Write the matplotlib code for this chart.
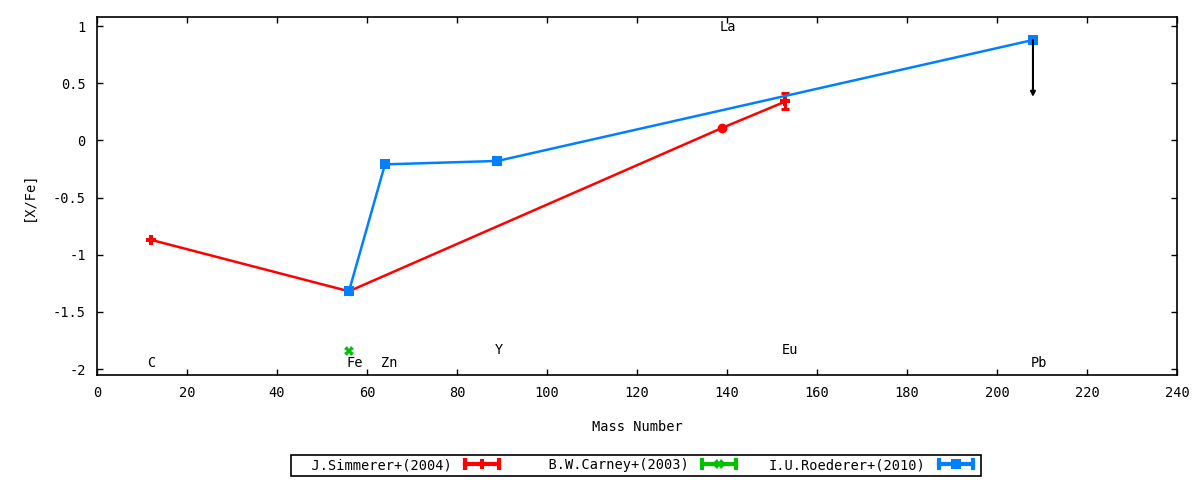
import matplotlib
matplotlib.use("Agg")
import matplotlib.pyplot as plt
from matplotlib.lines import Line2D
from matplotlib.legend_handler import HandlerLine2D, HandlerTuple

plt.rcParams['font.family'] = ['DejaVu Sans Mono']
plt.rcParams['font.size'] = 9.5

# J.Simmerer+(2004)
sim_mass = [12, 56, 139, 153]
sim_xfe = [-0.87, -1.32, 0.11, 0.34]
sim_err = [0.0, 0.0, 0.0, 0.07]
sim_marker = ['P', None, 'o', 'P']

# B.W.Carney+(2003)
car_mass = [56]
car_xfe = [-1.845]

# I.U.Roederer+(2010)
roe_mass = [56, 64, 89, 208]
roe_xfe = [-1.32, -0.21, -0.18, 0.878]

# upper limit arrow on Pb
pb_mass = 208
pb_from = 0.878
pb_to = 0.38

# element labels
el_names = ['C', 'Fe', 'Zn', 'Y', 'La', 'Eu', 'Pb']
el_x = [12.1, 57.2, 65.0, 89.3, 140.2, 154.0, 209.3]
el_y = [-1.95, -1.95, -1.95, -1.83, 0.99, -1.83, -1.95]

series_names = ['J.Simmerer+(2004)', 'B.W.Carney+(2003)', 'I.U.Roederer+(2010)']

red = '#ff0000'
green = '#00c000'
blue = '#0080ff'
fs = 9.8

fig = plt.figure(figsize=(12, 4.8), dpi=100)
ax = fig.add_axes([0.0808, 0.2181, 0.90, 0.746])

# Simmerer
ax.plot(sim_mass, sim_xfe, color=red, lw=1.8, zorder=3)
ax.errorbar(sim_mass[3], sim_xfe[3], yerr=sim_err[3], color=red, lw=2.2,
            capsize=2.8, capthick=2.2, fmt='none', zorder=4)
for m, v, mk in zip(sim_mass, sim_xfe, sim_marker):
    if mk is None:
        continue
    ax.plot(m, v, marker=mk, color=red, ms=7 if mk == 'o' else 6.5,
            mew=0, ls='none', zorder=4)

# Carney
ax.plot(car_mass, car_xfe, marker='X', color=green, ms=7, mew=0,
        ls='none', zorder=4)

# Roederer
ax.plot(roe_mass, roe_xfe, color=blue, lw=1.8, marker='s', ms=7, mew=0,
        zorder=5)

ax.annotate('', xy=(pb_mass, pb_to), xytext=(pb_mass, pb_from),
            arrowprops=dict(arrowstyle='-|>', color='black', lw=1.5,
                            mutation_scale=7, shrinkA=0, shrinkB=0),
            zorder=6)

for n, x, y in zip(el_names, el_x, el_y):
    ax.text(x, y, n, ha='center', va='center', fontsize=fs)

ax.set_xlim(0, 240)
ax.set_ylim(-2.055, 1.077)
ax.set_xticks(range(0, 241, 20))
ax.set_yticks([-2, -1.5, -1, -0.5, 0, 0.5, 1])
ax.set_yticklabels(['-2', '-1.5', '-1', '-0.5', '0', '0.5', '1'])
ax.tick_params(direction='in', length=4, width=1, top=True, right=True,
               labelsize=fs, pad=8)
for s in ax.spines.values():
    s.set_linewidth(1.2)
ax.set_xlabel('Mass Number', fontsize=fs, labelpad=14)
ax.set_ylabel('[X/Fe]', fontsize=fs, labelpad=12)

# legend handles: horizontal line with end caps and a marker in the middle
def make_handle(color, mk, ms):
    ln = Line2D([], [], color=color, lw=3, marker='|', ms=9, mew=3)
    pt = Line2D([], [], color=color, lw=0, marker=mk, ms=ms, mew=0)
    return (ln, pt), ln, pt

h1, l1, p1 = make_handle(red, 'P', 6.5)
h2, l2, p2 = make_handle(green, 'X', 7)
h3, l3, p3 = make_handle(blue, 's', 7)
hmap = {tuple: HandlerTuple(ndivide=1, pad=0)}
for l in (l1, l2, l3):
    hmap[l] = HandlerLine2D(numpoints=2)
for p in (p1, p2, p3):
    hmap[p] = HandlerLine2D(numpoints=1)

width = max(len(n) for n in series_names)
leg = fig.legend([h1, h2, h3], [n.rjust(width) for n in series_names],
                 handler_map=hmap,
                 loc='center', bbox_to_anchor=(0.53, 0.031), ncol=3,
                 markerfirst=False, fancybox=False, edgecolor='black',
                 framealpha=1, handlelength=3.1, handletextpad=0.7,
                 columnspacing=2.1, borderpad=0.25, fontsize=fs)
leg.get_frame().set_linewidth(1.2)

fig.savefig('out.png', dpi=100)
